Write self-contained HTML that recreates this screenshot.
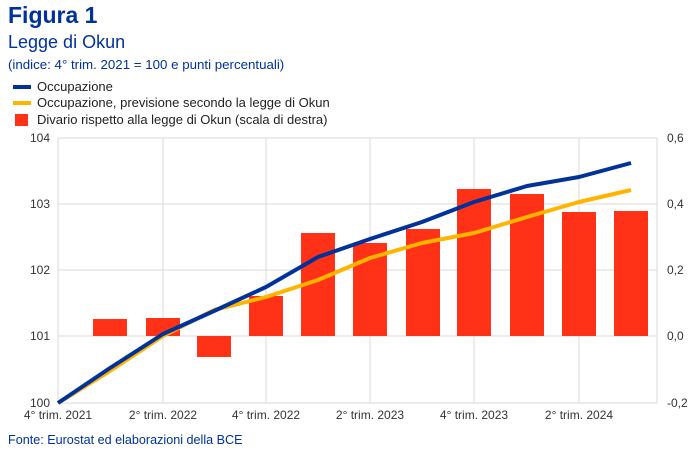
<!DOCTYPE html>
<html><head><meta charset="utf-8"><style>
body{margin:0;background:#fff;width:699px;height:453px;overflow:hidden;font-family:"Liberation Sans",Arial,sans-serif}
</style></head><body>
<svg width="699" height="453" xmlns="http://www.w3.org/2000/svg" font-family="Liberation Sans, Arial, sans-serif">
<text x="8" y="23" font-size="23" font-weight="bold" fill="#003299">Figura 1</text>
<text x="8" y="48" font-size="18" fill="#003299">Legge di Okun</text>
<text x="8" y="69" font-size="13.3" fill="#003299">(indice: 4° trim. 2021 = 100 e punti percentuali)</text>
<line x1="13" y1="87" x2="31" y2="87" stroke="#003299" stroke-width="4"/>
<text x="37" y="91" font-size="13" fill="#222">Occupazione</text>
<line x1="13" y1="103" x2="31" y2="103" stroke="#FFB400" stroke-width="4"/>
<text x="37" y="107" font-size="13" fill="#222">Occupazione, previsione secondo la legge di Okun</text>
<rect x="15" y="114" width="13" height="12" fill="#FF3217"/>
<text x="37" y="124" font-size="13" fill="#222">Divario rispetto alla legge di Okun (scala di destra)</text>
<g stroke="#d9d9d9" stroke-width="1">
<line x1="58" y1="138" x2="657" y2="138"/><line x1="58" y1="204" x2="657" y2="204"/><line x1="58" y1="270" x2="657" y2="270"/><line x1="58" y1="336" x2="657" y2="336"/><line x1="58" y1="403" x2="657" y2="403"/>
<line x1="58" y1="138" x2="58" y2="403"/><line x1="163" y1="138" x2="163" y2="403"/><line x1="266" y1="138" x2="266" y2="403"/><line x1="370" y1="138" x2="370" y2="403"/><line x1="474" y1="138" x2="474" y2="403"/><line x1="579" y1="138" x2="579" y2="403"/><line x1="657" y1="138" x2="657" y2="403"/>
</g>
<g fill="#FF3217">
<rect x="93" y="319" width="34" height="17"/>
<rect x="146" y="318" width="34" height="18"/>
<rect x="197" y="336" width="34" height="21"/>
<rect x="249" y="296" width="34" height="40"/>
<rect x="301" y="233" width="34" height="103"/>
<rect x="353" y="243" width="34" height="93"/>
<rect x="406" y="229" width="34" height="107"/>
<rect x="457" y="189" width="34" height="147"/>
<rect x="510" y="194" width="34" height="142"/>
<rect x="562" y="212" width="34" height="124"/>
<rect x="614" y="211" width="34" height="125"/>
</g>
<polyline fill="none" stroke="#FFB400" stroke-width="4" stroke-linejoin="round" points="58,403 110,371 163,336 214,310 266,297 318,280 370,258 422,243 474,233 527,217 579,202 631,190"/>
<polyline fill="none" stroke="#003299" stroke-width="4" stroke-linejoin="round" points="58,403 110,368 163,334 214,311 266,287 318,257 370,239 422,222 474,202 527,186 579,177 631,163"/>
<g font-size="12" fill="#333" text-anchor="end">
<text x="50" y="142">104</text><text x="50" y="208">103</text><text x="50" y="274">102</text><text x="50" y="340">101</text><text x="50" y="407">100</text>
</g>
<g font-size="12" fill="#333">
<text x="667" y="142">0,6</text><text x="667" y="208">0,4</text><text x="667" y="274">0,2</text><text x="667" y="340">0,0</text><text x="667" y="407">-0,2</text>
</g>
<g font-size="12" fill="#333" text-anchor="middle">
<text x="58" y="419">4° trim. 2021</text><text x="163" y="419">2° trim. 2022</text><text x="266" y="419">4° trim. 2022</text><text x="370" y="419">2° trim. 2023</text><text x="474" y="419">4° trim. 2023</text><text x="579" y="419">2° trim. 2024</text>
</g>
<text x="8" y="444" font-size="12.6" fill="#003299">Fonte: Eurostat ed elaborazioni della BCE</text>
</svg>
</body></html>
